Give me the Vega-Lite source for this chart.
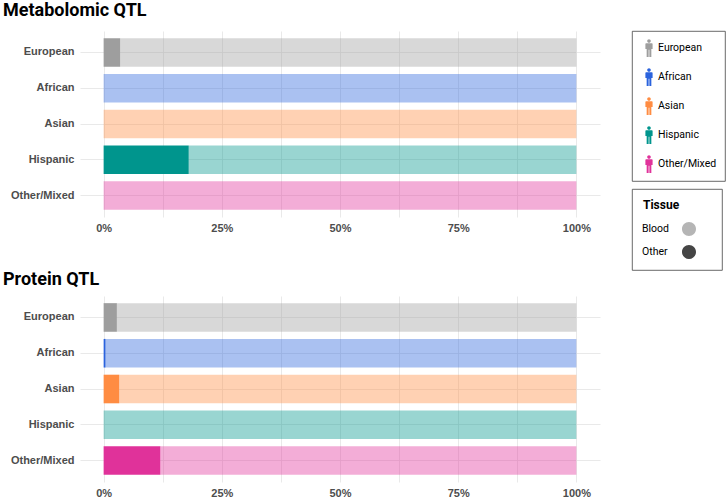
{
  "$schema": "https://vega.github.io/schema/vega-lite/v6.json",
  "padding": {"left": 3, "top": 2, "right": 5, "bottom": 0},
  "bounds": "flush",
  "spacing": 79,
  "datasets": {
    "qtl": [
      {"qtl": "Metabolomic", "ethnicity": "European", "tissue": "Other", "share": 0.035},
      {"qtl": "Metabolomic", "ethnicity": "European", "tissue": "Blood", "share": 0.965},
      {"qtl": "Metabolomic", "ethnicity": "African", "tissue": "Other", "share": 0},
      {"qtl": "Metabolomic", "ethnicity": "African", "tissue": "Blood", "share": 1},
      {"qtl": "Metabolomic", "ethnicity": "Asian", "tissue": "Other", "share": 0},
      {"qtl": "Metabolomic", "ethnicity": "Asian", "tissue": "Blood", "share": 1},
      {"qtl": "Metabolomic", "ethnicity": "Hispanic", "tissue": "Other", "share": 0.18},
      {"qtl": "Metabolomic", "ethnicity": "Hispanic", "tissue": "Blood", "share": 0.82},
      {"qtl": "Metabolomic", "ethnicity": "Other/Mixed", "tissue": "Other", "share": 0},
      {"qtl": "Metabolomic", "ethnicity": "Other/Mixed", "tissue": "Blood", "share": 1},
      {"qtl": "Protein", "ethnicity": "European", "tissue": "Other", "share": 0.028},
      {"qtl": "Protein", "ethnicity": "European", "tissue": "Blood", "share": 0.972},
      {"qtl": "Protein", "ethnicity": "African", "tissue": "Other", "share": 0.004},
      {"qtl": "Protein", "ethnicity": "African", "tissue": "Blood", "share": 0.996},
      {"qtl": "Protein", "ethnicity": "Asian", "tissue": "Other", "share": 0.033},
      {"qtl": "Protein", "ethnicity": "Asian", "tissue": "Blood", "share": 0.967},
      {"qtl": "Protein", "ethnicity": "Hispanic", "tissue": "Other", "share": 0},
      {"qtl": "Protein", "ethnicity": "Hispanic", "tissue": "Blood", "share": 1},
      {"qtl": "Protein", "ethnicity": "Other/Mixed", "tissue": "Other", "share": 0.12},
      {"qtl": "Protein", "ethnicity": "Other/Mixed", "tissue": "Blood", "share": 0.88}
    ]
  },
  "config": {
    "view": {"stroke": null},
    "axis": {
      "title": null,
      "ticks": false,
      "domain": false,
      "grid": true,
      "gridColor": "#e6e6e6",
      "gridWidth": 0.9,
      "labelFont": "Liberation Sans",
      "labelFontWeight": "bold",
      "labelFontSize": 11,
      "labelColor": "#4d4d4d"
    },
    "title": {"font": "Roboto", "fontSize": 18, "fontWeight": "bold", "color": "#000000", "anchor": "start", "frame": "group", "baseline": "alphabetic"}
  },
  "vconcat": [
    {
      "title": {"text": "Metabolomic QTL", "dx": -77, "offset": 11},
      "width": 520,
      "height": 186,
      "data": {"name": "qtl"},
      "transform": [{"filter": "datum.qtl == 'Metabolomic'"}],
      "mark": {"type": "bar"},
      "encoding": {
        "y": {
          "field": "ethnicity", "type": "nominal",
          "sort": ["European", "African", "Asian", "Hispanic", "Other/Mixed"],
          "scale": {"paddingInner": 0.2, "paddingOuter": 0.2},
          "axis": {"bandPosition": 0.5, "labelPadding": 6}
        },
        "x": {
          "field": "share", "type": "quantitative", "stack": "zero",
          "scale": {"domain": [-0.05, 1.05], "nice": false, "zero": false},
          "axis": {
            "values": [0, 0.125, 0.25, 0.375, 0.5, 0.625, 0.75, 0.875, 1],
            "labelExpr": "datum.value * 8 % 2 == 0 ? format(datum.value, '.0%') : ''",
            "labelPadding": 5
          }
        },
        "order": {"field": "tissue", "sort": "descending"},
        "color": {
          "field": "ethnicity", "type": "nominal",
          "scale": {
            "domain": ["European", "African", "Asian", "Hispanic", "Other/Mixed"],
            "range": ["#9e9e9e", "#2b63dd", "#ff8c42", "#00958d", "#e0329a"]
          },
          "legend": {
            "title": null, "orient": "none", "legendX": 552, "legendY": 0,
            "symbolType": "M-0.2,-0.78A0.2,0.2 0 1,0 0.2,-0.78A0.2,0.2 0 1,0 -0.2,-0.78Z M-0.4,-0.45Q-0.4,-0.52 -0.32,-0.52L0.32,-0.52Q0.4,-0.52 0.4,-0.45L0.4,0.12L0.26,0.12L0.26,1L0.04,1L0.04,0.2L-0.04,0.2L-0.04,1L-0.26,1L-0.26,0.12L-0.4,0.12Z M-0.9,0L-0.9,0.001Z",
            "symbolSize": 324, "symbolStrokeWidth": 0, "symbolOpacity": 1,
            "labelFont": "Roboto", "labelFontSize": 10.5, "labelColor": "#000000", "labelOffset": 0,
            "rowPadding": 11, "padding": 8,
            "strokeColor": "#444444", "fillColor": "#ffffff",
            "encode": {
              "legend": {"update": {"strokeWidth": {"value": 0.8}}},
              "symbols": {"update": {"fill": {"signal": "({'European': '#7f7f7f', 'African': '#1f5bd6', 'Asian': '#ff8a4c', 'Hispanic': '#007a6e', 'Other/Mixed': '#cc1480'})[datum.value]"}, "opacity": {"value": 1}}}
            }
          }
        },
        "opacity": {
          "field": "tissue", "type": "ordinal",
          "scale": {"domain": ["Blood", "Other"], "range": [0.4, 1]},
          "legend": {
            "title": "Tissue", "orient": "none", "legendX": 552, "legendY": 158,
            "symbolType": "M4.571,0A1,1 0 1,0 6.571,0A1,1 0 1,0 4.571,0Z M8.71,0L8.71,0.001Z",
            "symbolSize": 196, "symbolStrokeWidth": 0, "symbolFillColor": "#454545",
            "labelFont": "Roboto", "labelFontSize": 10.5, "labelColor": "#000000", "labelOffset": -15,
            "titleFont": "Roboto", "titleFontSize": 12, "titleFontWeight": "bold", "titleColor": "#000000", "titlePadding": 10,
            "rowPadding": 9, "padding": 11,
            "strokeColor": "#444444", "fillColor": "#ffffff",
            "encode": {
              "legend": {"update": {"strokeWidth": {"value": 0.8}}}
            }
          }
        }
      }
    },
    {
      "title": {"text": "Protein QTL", "dx": -77, "offset": 7},
      "width": 520,
      "height": 186,
      "data": {"name": "qtl"},
      "transform": [{"filter": "datum.qtl == 'Protein'"}],
      "mark": {"type": "bar"},
      "encoding": {
        "y": {
          "field": "ethnicity", "type": "nominal",
          "sort": ["European", "African", "Asian", "Hispanic", "Other/Mixed"],
          "scale": {"paddingInner": 0.2, "paddingOuter": 0.2},
          "axis": {"bandPosition": 0.5, "labelPadding": 6}
        },
        "x": {
          "field": "share", "type": "quantitative", "stack": "zero",
          "scale": {"domain": [-0.05, 1.05], "nice": false, "zero": false},
          "axis": {
            "values": [0, 0.125, 0.25, 0.375, 0.5, 0.625, 0.75, 0.875, 1],
            "labelExpr": "datum.value * 8 % 2 == 0 ? format(datum.value, '.0%') : ''",
            "labelPadding": 5
          }
        },
        "order": {"field": "tissue", "sort": "descending"},
        "color": {
          "field": "ethnicity", "type": "nominal",
          "scale": {
            "domain": ["European", "African", "Asian", "Hispanic", "Other/Mixed"],
            "range": ["#9e9e9e", "#2b63dd", "#ff8c42", "#00958d", "#e0329a"]
          },
          "legend": {
            "title": null, "orient": "none", "legendX": 552, "legendY": 0,
            "symbolType": "M-0.2,-0.78A0.2,0.2 0 1,0 0.2,-0.78A0.2,0.2 0 1,0 -0.2,-0.78Z M-0.4,-0.45Q-0.4,-0.52 -0.32,-0.52L0.32,-0.52Q0.4,-0.52 0.4,-0.45L0.4,0.12L0.26,0.12L0.26,1L0.04,1L0.04,0.2L-0.04,0.2L-0.04,1L-0.26,1L-0.26,0.12L-0.4,0.12Z M-0.9,0L-0.9,0.001Z",
            "symbolSize": 324, "symbolStrokeWidth": 0, "symbolOpacity": 1,
            "labelFont": "Roboto", "labelFontSize": 10.5, "labelColor": "#000000", "labelOffset": 0,
            "rowPadding": 11, "padding": 8,
            "strokeColor": "#444444", "fillColor": "#ffffff",
            "encode": {
              "legend": {"update": {"strokeWidth": {"value": 0.8}}},
              "symbols": {"update": {"fill": {"signal": "({'European': '#7f7f7f', 'African': '#1f5bd6', 'Asian': '#ff8a4c', 'Hispanic': '#007a6e', 'Other/Mixed': '#cc1480'})[datum.value]"}, "opacity": {"value": 1}}}
            }
          }
        },
        "opacity": {
          "field": "tissue", "type": "ordinal",
          "scale": {"domain": ["Blood", "Other"], "range": [0.4, 1]},
          "legend": {
            "title": "Tissue", "orient": "none", "legendX": 552, "legendY": 158,
            "symbolType": "M4.571,0A1,1 0 1,0 6.571,0A1,1 0 1,0 4.571,0Z M8.71,0L8.71,0.001Z",
            "symbolSize": 196, "symbolStrokeWidth": 0, "symbolFillColor": "#454545",
            "labelFont": "Roboto", "labelFontSize": 10.5, "labelColor": "#000000", "labelOffset": -15,
            "titleFont": "Roboto", "titleFontSize": 12, "titleFontWeight": "bold", "titleColor": "#000000", "titlePadding": 10,
            "rowPadding": 9, "padding": 11,
            "strokeColor": "#444444", "fillColor": "#ffffff",
            "encode": {
              "legend": {"update": {"strokeWidth": {"value": 0.8}}}
            }
          }
        }
      }
    }
  ]
}
